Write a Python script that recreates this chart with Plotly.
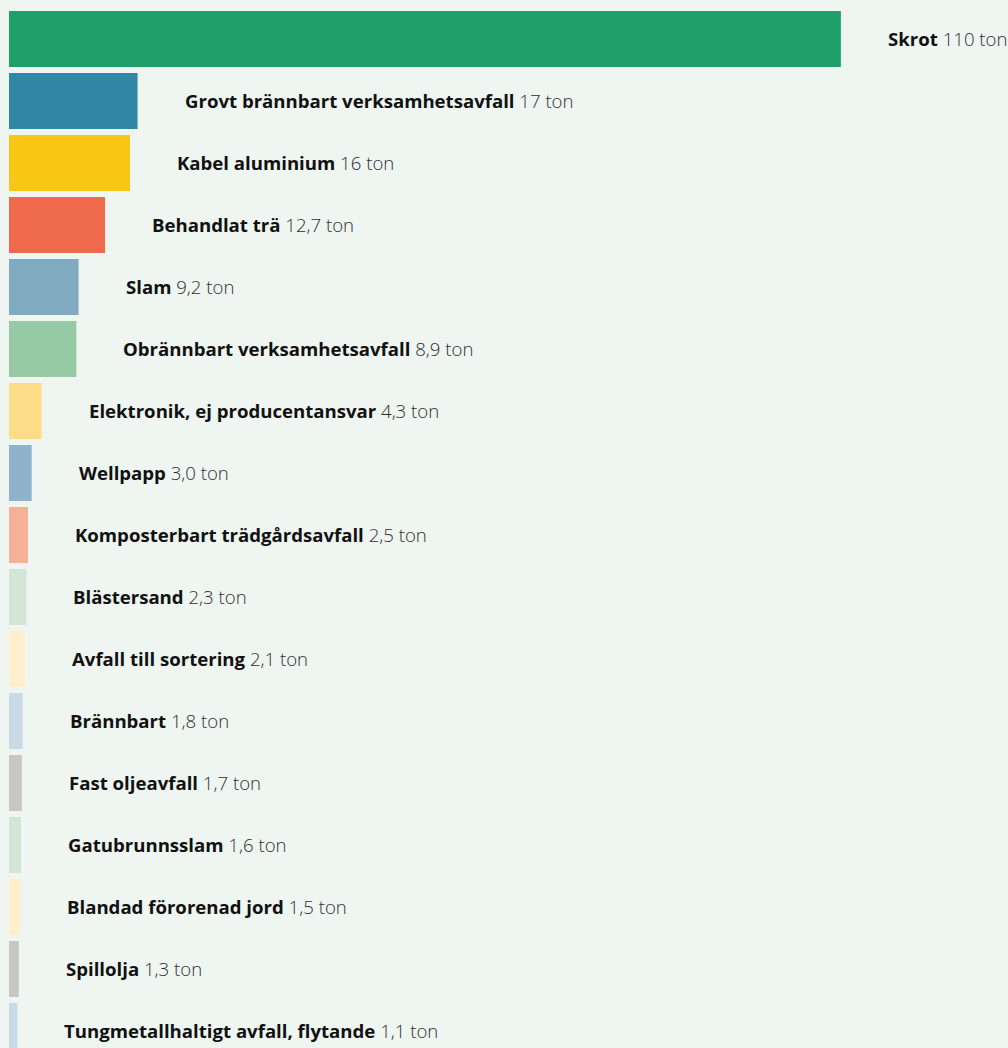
import plotly.graph_objects as go

categories = ["Skrot", "Grovt brännbart verksamhetsavfall", "Kabel aluminium", "Behandlat trä",
              "Slam", "Obrännbart verksamhetsavfall", "Elektronik, ej producentansvar", "Wellpapp",
              "Komposterbart trädgårdsavfall", "Blästersand", "Avfall till sortering", "Brännbart",
              "Fast oljeavfall", "Gatubrunnsslam", "Blandad förorenad jord", "Spillolja",
              "Tungmetallhaltigt avfall, flytande"]
values = [110, 17, 16, 12.7, 9.2, 8.9, 4.3, 3.0, 2.5, 2.3, 2.1, 1.8, 1.7, 1.6, 1.5, 1.3, 1.1]
value_labels = ["110", "17", "16", "12,7", "9,2", "8,9", "4,3", "3,0", "2,5", "2,3", "2,1", "1,8",
                "1,7", "1,6", "1,5", "1,3", "1,1"]
colors = ["#1fa06a", "#3286a5", "#fac616", "#f06b4e", "#7faabf", "#96c9a4", "#fddc87", "#90b2ca",
          "#f6b098", "#d2e5d6", "#fef0cc", "#c9d9e6", "#c6c6c6", "#d2e5d6", "#fef0cc", "#c6c6c6",
          "#c9d9e6"]

BG = "#eff5f1"

fig = go.Figure()
fig.add_trace(go.Bar(
    x=values, y=categories, orientation="h",
    marker=dict(color=colors, line=dict(width=0)),
    hoverinfo="skip",
))

for cat, v, lab in zip(categories, values, value_labels):
    fig.add_annotation(
        x=v, y=cat, xref="x", yref="y",
        text=f"<b>{cat}</b> <span style='color:#2e2e2e'>{lab} ton</span>",
        showarrow=False, xanchor="left", xshift=45, yshift=1,
        font=dict(family="Open Sans", size=18.6, color="#111111", weight=300),
    )

fig.update_layout(
    width=1008, height=1070,
    margin=dict(l=9, r=0, t=8, b=8),
    paper_bgcolor=BG, plot_bgcolor=BG,
    bargap=0.097,
    showlegend=False,
    xaxis=dict(range=[0, 132.1], visible=False, fixedrange=True),
    yaxis=dict(autorange="reversed", visible=False, fixedrange=True),
)

fig.write_html(
    "out.html",
    config={"displayModeBar": False},
    post_script=f"document.body.style.margin='0';document.body.style.background='{BG}';",
)
